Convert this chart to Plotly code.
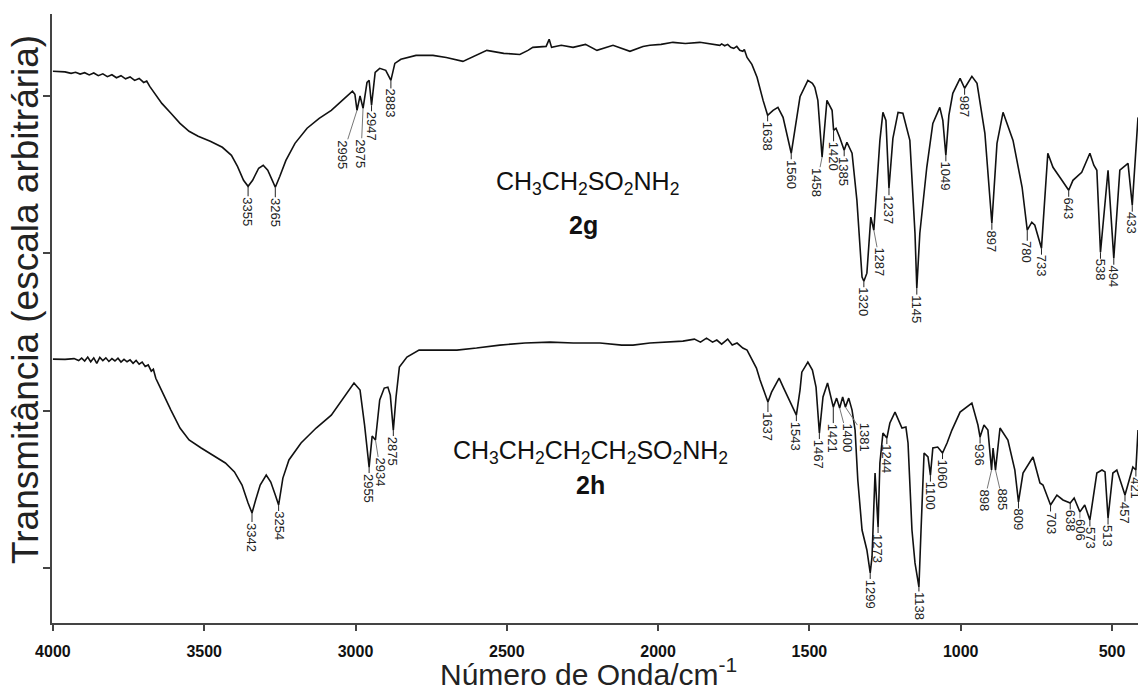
import numpy as np
import plotly.graph_objects as go

# wavenumbers (cm-1) and transmittance (arbitrary units, curves offset)
wn_2g = [4000, 3960, 3940, 3925, 3910, 3895, 3880, 3865, 3850, 3835, 3820, 3805, 3790, 3775,
         3760, 3745, 3730, 3715, 3700, 3690, 3680, 3660, 3640, 3610, 3580, 3550, 3520, 3480,
         3440, 3410, 3390, 3370, 3355, 3340, 3320, 3305, 3290, 3275, 3265, 3250, 3230, 3200,
         3160, 3120, 3080, 3040, 3010, 3002, 2995, 2985, 2975, 2962, 2955, 2947, 2935, 2920,
         2900, 2883, 2870, 2850, 2800, 2744, 2700, 2645, 2600, 2566, 2510, 2457, 2430, 2414,
         2370, 2360, 2352, 2320, 2281, 2240, 2202, 2149, 2093, 2050, 2027, 1990, 1951, 1910,
         1862, 1830, 1796, 1790, 1780, 1770, 1760, 1750, 1740, 1730, 1720, 1715, 1706, 1690,
         1673, 1653, 1638, 1620, 1604, 1587, 1560, 1531, 1505, 1490, 1482, 1472, 1458, 1442,
         1425, 1420, 1412, 1400, 1385, 1376, 1359, 1343, 1326, 1320, 1310, 1297, 1287, 1267,
         1257, 1247, 1237, 1224, 1207, 1191, 1168, 1151, 1145, 1135, 1112, 1092, 1069, 1059,
         1049, 1039, 1026, 1002, 987, 963, 946, 920, 897, 880, 860, 827, 797, 780, 765, 755,
         733, 712, 695, 670, 643, 629, 600, 573, 560, 550, 538, 513, 494, 474, 447, 433, 414]
t_2g = [3.156, 3.152, 3.143, 3.150, 3.138, 3.147, 3.133, 3.145, 3.128, 3.140, 3.122, 3.134, 3.115, 3.128,
        3.108, 3.120, 3.098, 3.110, 3.085, 3.094, 3.060, 3.003, 2.952, 2.889, 2.825, 2.775, 2.743, 2.711,
        2.673, 2.622, 2.552, 2.463, 2.425, 2.463, 2.540, 2.559, 2.527, 2.463, 2.419, 2.489, 2.590, 2.698,
        2.794, 2.857, 2.908, 2.978, 3.029, 3.010, 2.908, 3.000, 2.921, 3.086, 3.098, 2.940, 3.149, 3.175,
        3.162, 3.098, 3.206, 3.232, 3.257, 3.257, 3.244, 3.219, 3.257, 3.289, 3.270, 3.263, 3.289, 3.308,
        3.314, 3.359, 3.308, 3.321, 3.308, 3.327, 3.289, 3.321, 3.283, 3.314, 3.321, 3.327, 3.340, 3.333,
        3.340, 3.333, 3.321, 3.330, 3.318, 3.327, 3.308, 3.302, 3.314, 3.289, 3.283, 3.295, 3.244, 3.200,
        3.118, 2.971, 2.876, 2.908, 2.927, 2.863, 2.635, 2.994, 3.098, 3.079, 3.054, 2.971, 2.610, 2.971,
        2.908, 2.781, 2.794, 2.737, 2.654, 2.705, 2.635, 2.337, 1.848, 1.822, 1.873, 2.229, 2.146, 2.717,
        2.895, 2.844, 2.413, 2.730, 2.895, 2.889, 2.717, 2.127, 1.778, 2.127, 2.546, 2.825, 2.927, 2.844,
        2.622, 2.876, 3.016, 3.111, 3.048, 3.124, 3.079, 2.762, 2.190, 2.698, 2.895, 2.717, 2.419, 2.146,
        2.197, 2.178, 2.032, 2.635, 2.546, 2.476, 2.400, 2.463, 2.514, 2.635, 2.559, 2.527, 2.006, 2.527,
        1.968, 2.527, 2.571, 2.305, 2.863]

wn_2h = [4000, 3960, 3930, 3915, 3905, 3895, 3885, 3875, 3865, 3855, 3845, 3835, 3825, 3815,
         3805, 3795, 3785, 3775, 3765, 3755, 3745, 3735, 3725, 3715, 3705, 3695, 3685, 3675,
         3668, 3660, 3650, 3630, 3610, 3580, 3550, 3510, 3470, 3430, 3400, 3375, 3355, 3342,
         3330, 3315, 3295, 3280, 3265, 3254, 3240, 3220, 3180, 3130, 3080, 3040, 3005, 2985,
         2970, 2955, 2945, 2934, 2920, 2905, 2893, 2885, 2875, 2866, 2855, 2830, 2790, 2740,
         2665, 2600, 2523, 2440, 2357, 2280, 2192, 2120, 2083, 2027, 1960, 1918, 1880, 1860,
         1840, 1820, 1806, 1790, 1770, 1755, 1739, 1720, 1706, 1695, 1687, 1675, 1663, 1650,
         1637, 1625, 1600, 1585, 1560, 1543, 1531, 1525, 1505, 1490, 1478, 1467, 1455, 1440,
         1421, 1410, 1400, 1390, 1381, 1370, 1359, 1349, 1340, 1326, 1310, 1299, 1293, 1283,
         1273, 1267, 1257, 1244, 1234, 1217, 1194, 1181, 1174, 1161, 1151, 1138, 1131, 1121,
         1108, 1100, 1092, 1076, 1060, 1045, 1029, 1002, 963, 943, 936, 923, 910, 898, 893,
         885, 870, 844, 821, 809, 794, 761, 738, 728, 703, 682, 662, 638, 625, 606, 590, 573,
         550, 533, 523, 513, 497, 484, 457, 431, 421, 414]
t_2h = [1.327, 1.325, 1.330, 1.318, 1.333, 1.315, 1.340, 1.310, 1.335, 1.300, 1.338, 1.318, 1.335, 1.312,
        1.330, 1.315, 1.333, 1.308, 1.325, 1.310, 1.322, 1.300, 1.318, 1.295, 1.308, 1.280, 1.290, 1.250,
        1.262, 1.205, 1.165, 1.079, 1.003, 0.889, 0.813, 0.762, 0.717, 0.667, 0.610, 0.527, 0.413, 0.349,
        0.432, 0.527, 0.590, 0.546, 0.463, 0.400, 0.571, 0.686, 0.794, 0.889, 0.971, 1.079, 1.175, 1.130,
        0.908, 0.641, 0.838, 0.813, 1.067, 1.143, 1.149, 1.098, 0.876, 1.086, 1.276, 1.340, 1.384, 1.384,
        1.384, 1.397, 1.416, 1.429, 1.435, 1.429, 1.429, 1.416, 1.416, 1.429, 1.435, 1.441, 1.454, 1.435,
        1.460, 1.435, 1.448, 1.422, 1.454, 1.416, 1.429, 1.397, 1.384, 1.346, 1.321, 1.270, 1.194, 1.130,
        1.054, 1.117, 1.206, 1.143, 1.035, 0.971, 1.130, 1.244, 1.308, 1.257, 1.149, 0.857, 1.086, 1.175,
        1.022, 1.079, 1.016, 1.086, 1.022, 1.079, 1.003, 0.876, 0.559, 0.241, 0.114, -0.032, 0.070, 0.603,
        0.260, 0.667, 0.857, 0.825, 0.921, 0.990, 0.889, 0.895, 0.794, 0.241, 0.032, -0.121, 0.241, 0.730,
        0.705, 0.590, 0.762, 0.768, 0.730, 0.794, 0.876, 0.990, 1.048, 0.908, 0.832, 0.908, 0.876, 0.622, 0.762,
        0.622, 0.889, 0.813, 0.622, 0.419, 0.603, 0.705, 0.540, 0.527, 0.400, 0.463, 0.432, 0.413, 0.444, 0.356, 0.400, 0.305,
        0.603, 0.622, 0.610, 0.317, 0.603, 0.622, 0.463, 0.641, 0.622, 0.876]

peaks_2g = [3355, 3265, 2995, 2975, 2947, 2883, 1638, 1560, 1458, 1420, 1385, 1320, 1287,
            1237, 1145, 1049, 987, 897, 780, 733, 643, 538, 494, 433]
peaks_2h = [3342, 3254, 2955, 2934, 2875, 1637, 1543, 1467, 1421, 1400, 1381, 1299, 1273,
            1244, 1138, 1100, 1060, 936, 898, 885, 809, 703, 638, 606, 573, 513, 457, 421]

# label offsets (pixels) where the label sits away from the band
offs_2g = {3355: (0, 25), 3265: (0, 25), 2995: (-14, 44), 2975: (-2, 45), 2883: (0, 23),
           1458: (-5, 25), 1420: (0, 26), 1287: (6, 32), 1237: (0, 22), 780: (0, 22)}
offs_2h = {3342: (0, 24), 2934: (5, 32), 1421: (0, 31), 1400: (8, 30), 1381: (20, 30),
           1637: (0, 25), 1138: (0, 19), 898: (-7, 30), 885: (7, 30)}
lead_2g = [2995, 2975, 1458, 1287]
lead_2h = [2934, 1400, 1381, 898, 885, 606]

FONT = "Arial, Liberation Sans, sans-serif"

fig = go.Figure()
for wn, t in [(wn_2g, t_2g), (wn_2h, t_2h)]:
    fig.add_trace(go.Scatter(x=wn, y=t, mode='lines', line=dict(color='#111', width=1.6),
                             showlegend=False, hoverinfo='x'))


def label_peaks(peaks, wn, t, offs, leads):
    xs = np.array(wn[::-1], dtype=float)
    ys = np.array(t[::-1], dtype=float)
    for p in peaks:
        y = float(np.interp(p, xs, ys))
        ax, ay = offs.get(p, (0, 21 if p >= 1000 else 18))
        fig.add_annotation(x=p, y=y, text=str(p), textangle=90, showarrow=True, arrowhead=0,
                           arrowwidth=1, arrowcolor='#777' if p in leads else '#222',
                           ax=ax, ay=ay, standoff=0, borderpad=0,
                           font=dict(family=FONT, size=13, color='#222'))


label_peaks(peaks_2g, wn_2g, t_2g, offs_2g, lead_2g)
label_peaks(peaks_2h, wn_2h, t_2h, offs_2h, lead_2h)

# compound names
fig.add_annotation(x=2232, y=2.444, text="CH<sub>3</sub>CH<sub>2</sub>SO<sub>2</sub>NH<sub>2</sub>",
                   showarrow=False, font=dict(family=FONT, size=25, color='#111'))
fig.add_annotation(x=2248, y=2.178, text="<b>2g</b>", showarrow=False,
                   font=dict(family=FONT, size=25, color='#111'))
fig.add_annotation(x=2222, y=0.737,
                   text="CH<sub>3</sub>CH<sub>2</sub>CH<sub>2</sub>CH<sub>2</sub>SO<sub>2</sub>NH<sub>2</sub>",
                   showarrow=False, font=dict(family=FONT, size=25, color='#111'))
fig.add_annotation(x=2225, y=0.527, text="<b>2h</b>", showarrow=False,
                   font=dict(family=FONT, size=25, color='#111'))

# axis titles
fig.add_annotation(xref='paper', yref='paper', x=-0.0249, y=0.532, textangle=-90,
                   xanchor='center', yanchor='middle',
                   text="Transmitância (escala arbitrária)", showarrow=False,
                   font=dict(family=FONT, size=37, color='#222'))
fig.add_annotation(xref='paper', yref='paper', x=0.4936, y=-0.080,
                   xanchor='center', yanchor='middle',
                   text="Número de Onda/cm<sup>-1</sup>", showarrow=False,
                   font=dict(family=FONT, size=30, color='#222'))

fig.update_layout(
    width=1138, height=693, plot_bgcolor='white', paper_bgcolor='white',
    margin=dict(l=52, r=0, t=14, b=70),
    xaxis=dict(range=[4003, 414], tickvals=[4000, 3500, 3000, 2500, 2000, 1500, 1000, 500],
               ticks='outside', ticklen=6, tickwidth=1.5, tickcolor='#444', showline=True,
               linecolor='#444', linewidth=1.5, showgrid=False, zeroline=False,
               ticklabelstandoff=7,
               tickfont=dict(family=FONT, size=16, color='#111', weight='bold')),
    yaxis=dict(range=[-0.35, 3.52], tickvals=[0, 1, 2, 3], showticklabels=False,
               ticks='outside', ticklen=7, tickwidth=1.5, tickcolor='#444', showline=True,
               linecolor='#444', linewidth=1.5, showgrid=False, zeroline=False),
)

fig.write_html("out.html", config={'displayModeBar': False},
               post_script="document.body.style.margin='0px';")
